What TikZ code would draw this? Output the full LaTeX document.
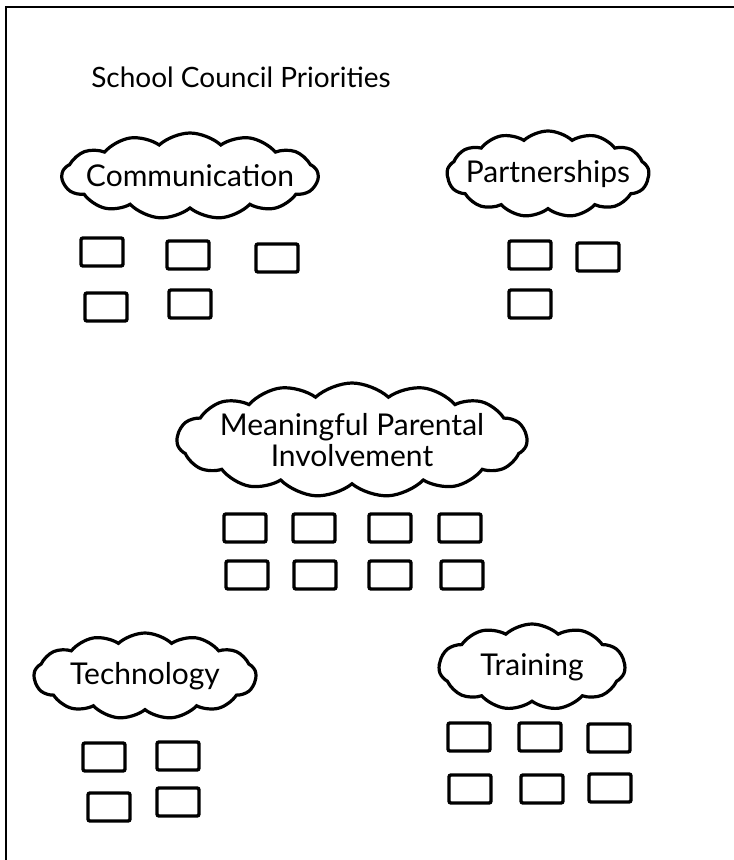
\documentclass[tikz,border=0pt]{standalone}
\usepackage{fontspec}
\setmainfont{Lato}
\usetikzlibrary{shapes.symbols}

\tikzset{
  topic/.style={cloud, draw, line width=3.2pt, cloud puffs=13, cloud puff arc=85,
    cloud ignores aspect, inner sep=-30pt, align=center, font=\fontsize{30}{31}\selectfont},
  slot/.style={draw, line width=3.4pt, rounded corners=2pt, minimum width=42pt,
    minimum height=28pt, inner sep=0pt},
}

\begin{document}
\begin{tikzpicture}[x=1pt,y=-1pt]
  \useasboundingbox (0,0) rectangle (734,860);
  % frame along the top and left edge
  \draw[line width=2.5pt] (6,860) -- (6,7) -- (734,7);

  \node[font=\fontsize{28}{30}\selectfont] (title) at (241,77) {School Council Priorities};

  % the five priority clouds
  \node[topic, minimum width=256pt, minimum height=86pt] (comm) at (190,176) {Communication};
  \node[topic, minimum width=202pt, minimum height=86pt] (part) at (548,174) {Partnerships};
  \node[topic, minimum width=350pt, minimum height=114pt, cloud puffs=15] (mean) at (352,440)
    {Meaningful Parental\\Involvement};
  \node[topic, minimum width=222pt, minimum height=86pt] (tech) at (145,676) {Technology};
  \node[topic, minimum width=186pt, minimum height=86pt, cloud puffs=11] (train) at (532,667) {Training};

  % empty slots under each cloud
  \draw
    (102,252) node[slot] (comm1){}
    (188,255) node[slot] (comm2){}
    (277,258) node[slot] (comm3){}
    (106,307) node[slot] (comm4){}
    (190,304) node[slot] (comm5){};
  \draw
    (530,255) node[slot] (part1){}
    (598,257) node[slot] (part2){}
    (530,304) node[slot] (part3){};
  \draw
    (245,528) node[slot] (mean1){}
    (314,528) node[slot] (mean2){}
    (390,528) node[slot] (mean3){}
    (460,528) node[slot] (mean4){}
    (247,575) node[slot] (mean5){}
    (315,575) node[slot] (mean6){}
    (390,575) node[slot] (mean7){}
    (462,575) node[slot] (mean8){};
  \draw
    (104,757) node[slot] (tech1){}
    (178,756) node[slot] (tech2){}
    (109,807) node[slot] (tech3){}
    (178,802) node[slot] (tech4){};
  \draw
    (469,737) node[slot] (train1){}
    (540,737) node[slot] (train2){}
    (609,738) node[slot] (train3){}
    (470,789) node[slot] (train4){}
    (542,789) node[slot] (train5){}
    (610,788) node[slot] (train6){};
\end{tikzpicture}
\end{document}
